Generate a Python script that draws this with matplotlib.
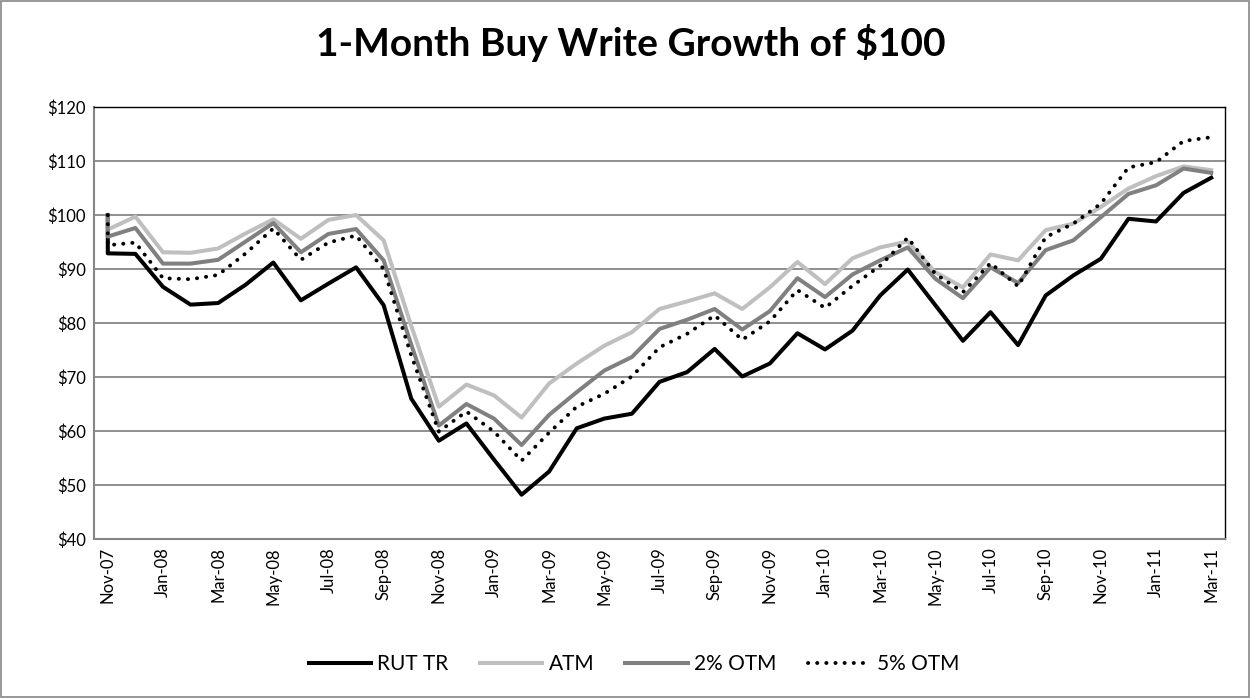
import matplotlib
matplotlib.use("Agg")
import matplotlib.pyplot as plt
from matplotlib.patches import Rectangle

plt.rcParams['font.family'] = ['Lato', 'DejaVu Sans']

months = ["Nov-07", "Dec-07", "Jan-08", "Feb-08", "Mar-08", "Apr-08", "May-08", "Jun-08",
          "Jul-08", "Aug-08", "Sep-08", "Oct-08", "Nov-08", "Dec-08", "Jan-09", "Feb-09",
          "Mar-09", "Apr-09", "May-09", "Jun-09", "Jul-09", "Aug-09", "Sep-09", "Oct-09",
          "Nov-09", "Dec-09", "Jan-10", "Feb-10", "Mar-10", "Apr-10", "May-10", "Jun-10",
          "Jul-10", "Aug-10", "Sep-10", "Oct-10", "Nov-10", "Dec-10", "Jan-11", "Feb-11",
          "Mar-11"]

# first entry is the starting $100 (start of Nov-07), the rest are month-end values
rut_tr = [100, 92.9, 92.8, 86.7, 83.4, 83.7, 87.1, 91.2, 84.2, 87.3, 90.3, 83.3, 66.0,
          58.2, 61.4, 54.7, 48.2, 52.5, 60.5, 62.3, 63.2, 69.1, 70.9, 75.2, 70.1, 72.5,
          78.1, 75.1, 78.6, 85.1, 89.9, 83.3, 76.7, 82.0, 75.9, 85.1, 88.8, 91.9, 99.3,
          98.8, 104.1, 106.9]
atm = [100, 97.3, 99.7, 93.1, 93.0, 93.8, 96.6, 99.2, 95.6, 99.1, 100.0, 95.3, 79.5,
       64.5, 68.6, 66.6, 62.5, 68.8, 72.5, 75.8, 78.3, 82.6, 84.0, 85.5, 82.6, 86.6,
       91.3, 87.2, 92.0, 94.0, 95.1, 89.4, 86.6, 92.7, 91.6, 97.2, 98.4, 101.5, 104.9,
       107.2, 109.0, 108.3]
otm2 = [100, 96.0, 97.6, 91.0, 91.0, 91.7, 95.1, 98.5, 93.1, 96.5, 97.4, 91.6, 76.0,
        61.0, 65.0, 62.3, 57.4, 63.0, 67.2, 71.2, 73.7, 78.9, 80.6, 82.6, 78.8, 82.2,
        88.3, 84.8, 89.0, 91.6, 94.0, 88.2, 84.6, 90.3, 87.4, 93.5, 95.3, 99.6, 103.9,
        105.5, 108.6, 107.8]
otm5 = [100, 94.4, 94.9, 88.3, 88.1, 88.9, 92.9, 97.5, 91.7, 94.9, 96.2, 90.0, 74.0,
        59.9, 63.6, 59.9, 54.5, 59.7, 64.5, 66.9, 70.1, 75.5, 78.0, 81.4, 76.9, 80.3,
        86.1, 82.8, 86.9, 90.6, 95.8, 89.1, 85.7, 91.1, 86.8, 95.9, 98.4, 102.1, 108.8,
        109.8, 113.7, 114.4]

y_ticks = [40, 50, 60, 70, 80, 90, 100, 110, 120]
y_labels = ["$40", "$50", "$60", "$70", "$80", "$90", "$100", "$110", "$120"]

# x positions: start value and Nov-07 month-end share the Nov-07 category
x = [0] + list(range(len(months)))

fig = plt.figure(figsize=(12.5, 6.98), dpi=100)
ax = fig.add_axes([0.0752, 0.2278, 0.9048, 0.6189])

ax.plot(x, rut_tr, color='black', lw=2.9, label='RUT TR', solid_joinstyle='round', zorder=3)
ax.plot(x, atm, color='#BFBFBF', lw=2.9, label='ATM', solid_joinstyle='round', zorder=4)
ax.plot(x, otm2, color='#808080', lw=2.9, label='2% OTM', solid_joinstyle='round', zorder=5)
ax.plot(x, otm5, color='black', lw=2.8, linestyle=(0, (0.05, 2.3)), dash_capstyle='round',
        label='5% OTM', zorder=6)

ax.set_xlim(-0.5, len(months) - 0.5)
ax.set_ylim(40, 120)
ax.set_yticks(y_ticks)
ax.set_yticklabels(y_labels, fontsize=12)
ax.set_xticks(list(range(0, len(months), 2)))
ax.set_xticklabels(months[::2], rotation=90, fontsize=12)
ax.tick_params(axis='both', length=0, pad=6)
ax.yaxis.grid(True, color='#868686', lw=1.3)
ax.set_axisbelow(True)
for s in ['top', 'right']:
    ax.spines[s].set_color('black')
    ax.spines[s].set_linewidth(1.0)
for s in ['left', 'bottom']:
    ax.spines[s].set_color('#868686')
    ax.spines[s].set_linewidth(1.5)

fig.suptitle("1-Month Buy Write Growth of $100", fontsize=28, fontweight='bold',
             x=0.505, y=0.965)

leg = fig.legend(loc='center', bbox_to_anchor=(0.507, 0.048), ncol=4, frameon=False,
                 fontsize=15, handlelength=3.0, handletextpad=0.3, columnspacing=1.5)

fig.patches.append(Rectangle((0.0008, 0.0012), 0.9984, 0.9976, transform=fig.transFigure,
                             fill=False, edgecolor='#868686', lw=1.2))

fig.savefig("out.png", dpi=100)
